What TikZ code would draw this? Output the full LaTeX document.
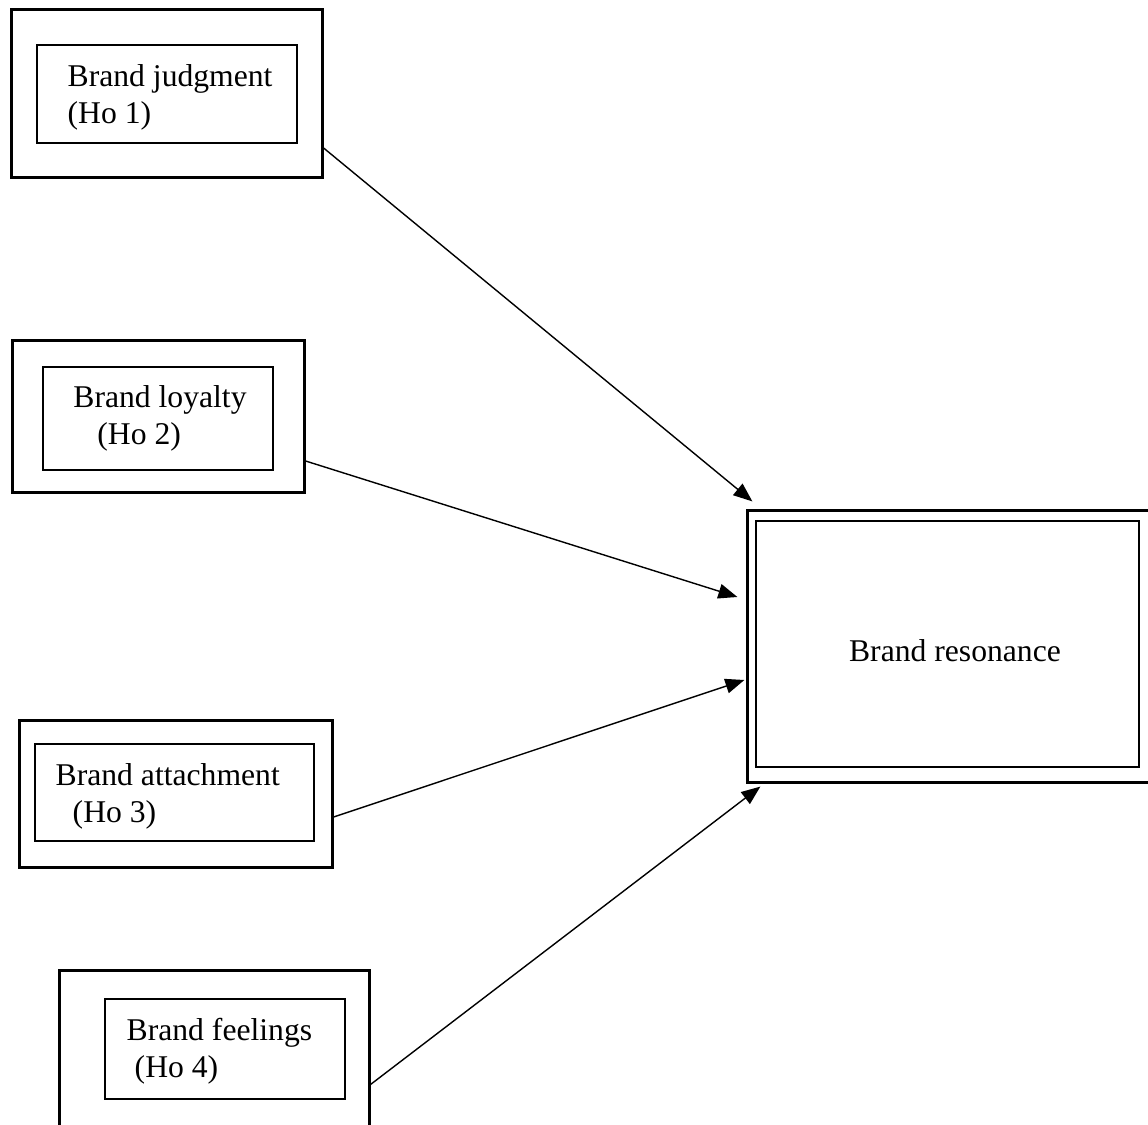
\documentclass[tikz,border=0pt]{standalone}
\usepackage{fontspec}
\setmainfont{Liberation Serif}
\usetikzlibrary{arrows.meta}

\begin{document}
\begin{tikzpicture}[x=0.01cm, y=-0.01cm,
    outbox/.style={rectangle, draw, line width=0.85pt, inner sep=0pt},
    inbox/.style={rectangle, draw, line width=0.45pt, inner sep=0pt},
    txt/.style={inner sep=0pt, align=left, anchor=north west, font=\fontsize{9pt}{10.5pt}\selectfont},
    arrowline/.style={line width=0.4pt, -{Triangle[length=5.4pt,width=4.2pt]}}]

    \useasboundingbox (0,0) rectangle (1148,1125);
    \clip (0,0) rectangle (1148,1125);

    \draw
    (167, 93.5) node[outbox, minimum width=3.10cm, minimum height=1.67cm](J){}
    (167, 94) node[inbox, minimum width=2.60cm, minimum height=0.98cm](Jin){}
    (158.5, 416.5) node[outbox, minimum width=2.91cm, minimum height=1.51cm](L){}
    (158, 418.5) node[inbox, minimum width=2.30cm, minimum height=1.03cm](Lin){}
    (176, 794) node[outbox, minimum width=3.12cm, minimum height=1.46cm](At){}
    (174.5, 792.5) node[inbox, minimum width=2.79cm, minimum height=0.97cm](Atin){}
    (214.5, 1053) node[outbox, minimum width=3.09cm, minimum height=1.64cm](F){}
    (225, 1049) node[inbox, minimum width=2.40cm, minimum height=1.00cm](Fin){}
    (954, 646.5) node[outbox, minimum width=4.12cm, minimum height=2.71cm](R){}
    (947.5, 644) node[inbox, minimum width=3.83cm, minimum height=2.46cm](Rin){};

    \node[txt] (Jtxt) at (67, 63.5) {Brand judgment\\(Ho 1)};
    \node[txt] (Ltxt) at (72.7, 384.5) {Brand loyalty\\\hspace*{0.24cm}(Ho 2)};
    \node[txt] (Attxt) at (55, 762.5) {Brand attachment\\\hspace*{0.17cm}(Ho 3)};
    \node[txt] (Ftxt) at (126, 1017.5) {Brand feelings\\\hspace*{0.08cm}(Ho 4)};
    \node[txt, anchor=base] (Rtxt) at (955, 662) {Brand resonance};

    \draw[arrowline] ([shift={(0,54.5)}]J.east) -- ([shift={(6,-8)}]R.north west);
    \draw[arrowline] ([shift={(0,44.5)}]L.east) -- ([shift={(-9,-49.5)}]R.west);
    \draw[arrowline] ([shift={(0,23)}]At.east) -- ([shift={(-2,33.5)}]R.west);
    \draw[arrowline] ([shift={(0,115)}]F.north east) -- ([shift={(14,3)}]R.south west);

  \end{tikzpicture}
\end{document}
